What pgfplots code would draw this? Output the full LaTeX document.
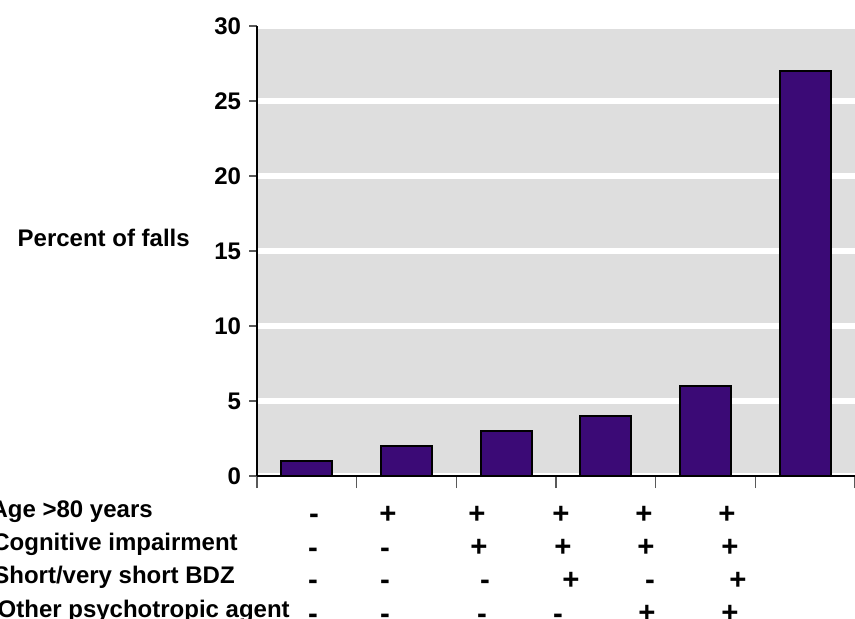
\documentclass[border=0pt]{standalone}
\usepackage{fontspec}
\setmainfont{Liberation Sans}
\usepackage{pgfplots}
\pgfplotsset{compat=1.18}
\definecolor{barpurple}{HTML}{3B0A76}
\definecolor{panelgray}{HTML}{DEDEDE}
\pgfplotsset{
  panel/.style={
    at={(257*0.75pt,-476*0.75pt)}, anchor=south west,
    scale only axis,
    width=448.5pt, height=337.5pt,
    xmin=0, xmax=6, ymin=0, ymax=30,
    tick align=outside,
    tick style={black!65, line width=0.8pt},
    clip=false,
  }
}
\begin{document}
\begin{tikzpicture}
% y axis, grid and bars
\begin{axis}[
    panel,
    axis x line*=bottom, axis y line*=left,
    axis line style={black, line width=1.4pt},
    axis background/.style={fill=panelgray},
    xtick=\empty,
    ytick={0,5,10,15,20,25,30},
    major tick length=6pt,
    ymajorgrids=true,
    major grid style={white, line width=4pt},
    /pgf/number format/assume math mode=true,
    yticklabel style={font=\fontsize{18}{20}\selectfont\bfseries, xshift=-2.5pt},
]
\addplot[ybar, bar width=0.51, fill=barpurple, draw=black, line width=1.4pt]
  coordinates {(0.5,1) (1.5,2) (2.5,3) (3.5,4) (4.5,6) (5.5,27)};
\end{axis}
% category separators below the x axis
\begin{axis}[
    panel,
    axis x line*=bottom, axis y line=none,
    axis line style={black, line width=1.4pt},
    xtick={0,1,2,3,4,5,6}, xticklabels={},
    ytick=\empty,
    major tick length=9pt,
]
\end{axis}
\begin{scope}[x=0.75pt,y=-0.75pt,
    every node/.style={font=\fontsize{18}{20}\selectfont\bfseries, inner sep=0pt},
    sign/.style={anchor=base, font=\fontsize{22}{24}\selectfont\bfseries}]
  \node[anchor=base east] at (190,246) {Percent of falls};
  \node[anchor=base east] at (153,517) {Age >80 years};
  \node[anchor=base east] at (238,550.5) {Cognitive impairment};
  \node[anchor=base east] at (235,583) {Short/very short BDZ};
  \node[anchor=base east] at (290,617) {Other psychotropic agent};
  % x / sign / ink centre to baseline
  \foreach \yc/\row in {
      513/{314/-/10.5,388/+/10,477/+/10,561/+/10,644/+/10,727/+/10},
      546.5/{313/-/10.5,385/-/10.5,479/+/10,563/+/10,646/+/10,730/+/10},
      579/{313/-/10.5,385/-/10.5,485/-/10.5,571/+/10,650/-/10.5,738/+/10},
      612.5/{313/-/10.5,385/-/10.5,482/-/10.5,558/-/10.5,647/+/10,730/+/10}}
    \foreach \x/\s/\o in \row
      \node[sign] at (\x,\yc+\o) {\s};
  \pgfresetboundingbox
  \path[use as bounding box] (0,0) rectangle (855,618);
\end{scope}
\end{tikzpicture}
\end{document}
